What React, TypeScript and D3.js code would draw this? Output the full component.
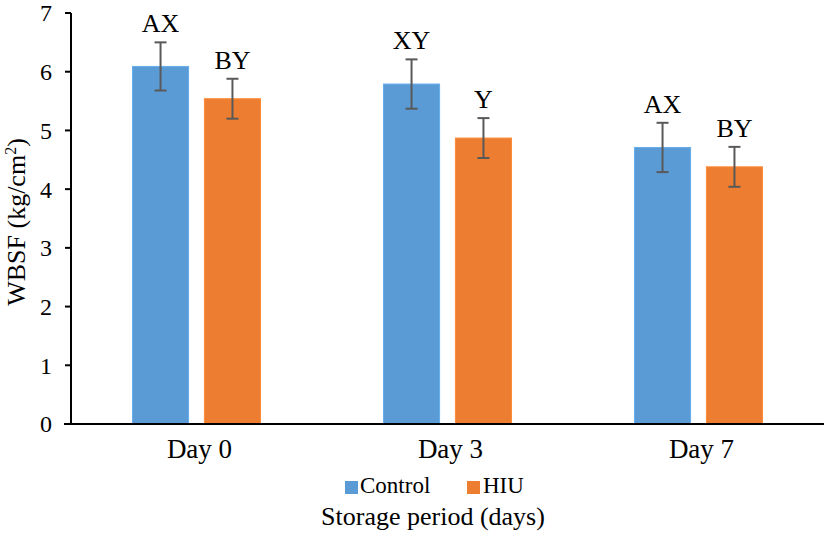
import React from "react";
import * as d3 from "d3";

const categories = ["Day 0", "Day 3", "Day 7"];
const seriesNames = ["Control", "HIU"];
const controlValues = [6.09, 5.79, 4.71];
const hiuValues = [5.54, 4.87, 4.38];
const controlErrors = [0.41, 0.42, 0.42];
const hiuErrors = [0.34, 0.34, 0.34];
const controlLabels = ["AX", "XY", "AX"];
const hiuLabels = ["BY", "Y", "BY"];
const yTicks = [0, 1, 2, 3, 4, 5, 6, 7];

const colors = ["#5B9BD5", "#ED7D31"];
const W = 827;
const H = 536;
const font = "Liberation Serif, DejaVu Serif, serif";

export default function App() {
  const left = 71;
  const right = 824;
  const top = 13;
  const bottom = 424;

  const y = d3.scaleLinear().domain([0, 7]).range([bottom, top]);
  const x0 = d3.scaleBand<string>().domain(categories).range([left, left + 3 * 251]).paddingInner(0).paddingOuter(0);
  const x1 = d3.scaleBand<string>().domain(seriesNames).range([61.5, 251 - 61.5]).paddingInner(0.22).paddingOuter(0);

  const series = [
    { name: "Control", values: controlValues, errs: controlErrors, labels: controlLabels, color: colors[0] },
    { name: "HIU", values: hiuValues, errs: hiuErrors, labels: hiuLabels, color: colors[1] },
  ];

  const ts = { fontFamily: font };
  const legendCx = 433;

  return (
    <svg width={W} height={H} style={{ display: "block", position: "absolute", left: 0, top: 0, fontFamily: font }}>
      <rect width={W} height={H} fill="#fff" />
      {series.map((s) =>
        categories.map((c, i) => {
          const bx = (x0(c) as number) + (x1(s.name) as number);
          const bw = x1.bandwidth();
          const cx = bx + bw / 2;
          const v = s.values[i];
          const e = s.errs[i];
          const yt = y(v + e);
          const yb = y(v - e);
          return (
            <g key={s.name + c}>
              <rect x={bx} y={y(v)} width={bw} height={bottom - y(v)} fill={s.color} stroke={d3.color(s.color)!.brighter(0.3).toString()} strokeWidth={1} />
              <line x1={cx} x2={cx} y1={yt} y2={yb} stroke="#595959" strokeWidth={2} />
              <line x1={cx - 6} x2={cx + 6} y1={yt} y2={yt} stroke="#595959" strokeWidth={2} />
              <line x1={cx - 6} x2={cx + 6} y1={yb} y2={yb} stroke="#595959" strokeWidth={2} />
              <text x={cx} y={yt - 10} textAnchor="middle" fontSize={26} fill="#000" style={ts}>{s.labels[i]}</text>
            </g>
          );
        })
      )}
      <line x1={left} x2={left} y1={top} y2={bottom} stroke="#000" strokeWidth={2} />
      {yTicks.map((t) => (
        <g key={t}>
          <line x1={left - 6} x2={left} y1={y(t)} y2={y(t)} stroke="#000" strokeWidth={2} />
          <text x={52} y={y(t)} dy="0.35em" textAnchor="end" fontSize={24} fill="#000" style={ts}>{t}</text>
        </g>
      ))}
      <line x1={left - 7} x2={right} y1={bottom} y2={bottom} stroke="#000" strokeWidth={2} />
      {categories.map((c) => (
        <text key={c} x={(x0(c) as number) + x0.bandwidth() / 2 + 3} y={458} textAnchor="middle" fontSize={27} fill="#000" style={ts}>{c}</text>
      ))}
      <text transform={`translate(25, 222) rotate(-90)`} textAnchor="middle" fontSize={26} fill="#000" style={ts}>
        WBSF (kg/cm<tspan dy={-9} fontSize={16}>2</tspan><tspan dy={9}>)</tspan>
      </text>
      <rect x={legendCx - 88} y={481} width={13} height={13} fill={colors[0]} />
      <text x={legendCx - 73} y={493} fontSize={23} fill="#000" style={ts}>{seriesNames[0]}</text>
      <rect x={legendCx + 34} y={481} width={13} height={13} fill={colors[1]} />
      <text x={legendCx + 50} y={493} fontSize={23} fill="#000" style={ts}>{seriesNames[1]}</text>
      <text x={legendCx} y={525} textAnchor="middle" fontSize={26} fill="#000" style={ts}>Storage period (days)</text>
    </svg>
  );
}
